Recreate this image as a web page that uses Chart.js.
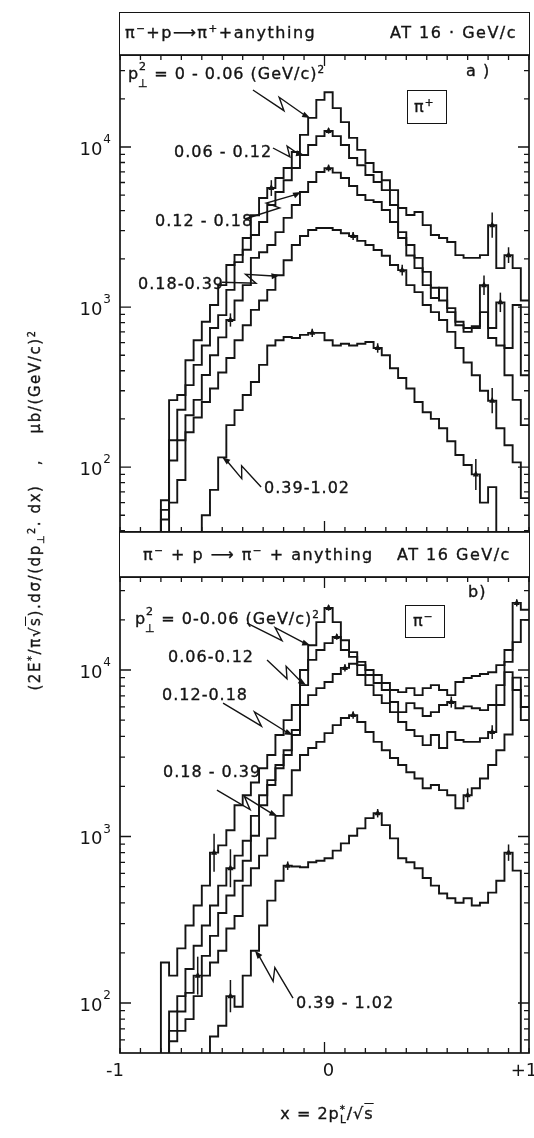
<!DOCTYPE html>
<html>
<head>
<meta charset="utf-8">
<script src="https://cdn.jsdelivr.net/npm/chart.js@4.4.1/dist/chart.umd.min.js"></script>
<style>
  body { margin: 0; background: #fff; }
  #page { position: relative; width: 534px; height: 1138px; overflow: hidden;
          font-family: 'DejaVu Sans', sans-serif; color: #141414; }
  canvas { position: absolute; left: 0; top: 0; }
  .t { position: absolute; white-space: nowrap; font-size: 16px; line-height: 18px; letter-spacing: 1px;
       -webkit-text-stroke: 0.35px #141414; }
  .hd { letter-spacing: 1.5px; }
  .box { position: absolute; border: 1.7px solid #141414; box-sizing: border-box; }
  sup { font-size: 0.65em; vertical-align: 0.55em; line-height: 0; }
  .pp { position: relative; display: inline-block; padding-right: 9px; }
  .pp .u { position: absolute; left: 11px; top: -7px; font-size: 11px; }
  .pp .d { position: absolute; left: 10px; top: 10px; font-size: 11px; }
  #ytitle { position: absolute; left: -174px; top: 500px; width: 420px; text-align: center;
            transform: rotate(-90deg); font-size: 15px; letter-spacing: 1.6px; white-space: nowrap;
            -webkit-text-stroke: 0.3px #141414; }
  #xtitle { position: absolute; left: 227px; top: 1104px; width: 200px; text-align: center;
            font-size: 16px; letter-spacing: 1px; -webkit-text-stroke: 0.35px #141414; }
</style>
</head>
<body>
<div id="page">
  <canvas id="plusChart" width="534" height="1138"></canvas>
  <canvas id="minusChart" width="534" height="1138"></canvas>

  <!-- header bands -->
  <div class="box" style="left:119px; top:12px; width:411px; height:44px;"></div>
  <div class="box" style="left:119px; top:531px; width:411px; height:47px;"></div>
  <div class="t hd" style="left:125px; top:24px;">π<sup>−</sup>+p⟶π<sup>+</sup>+anything</div>
  <div class="t hd" style="left:390px; top:24px;">AT 16 · GeV/c</div>
  <div class="t hd" style="left:143px; top:546px;">π<sup>−</sup> + p ⟶ π<sup>−</sup> + anything</div>
  <div class="t hd" style="left:397px; top:546px;">AT 16 GeV/c</div>

  <!-- panel a labels -->
  <div class="t" style="left:466px; top:62px;">a )</div>
  <div class="box" style="left:407px; top:90px; width:40px; height:34px;"></div>
  <div class="t" style="left:414px; top:98px;">π<sup>+</sup></div>
  <div class="t" style="left:128px; top:65px;"><span class="pp">p<span class="u">2</span><span class="d">⊥</span></span> = 0 - 0.06 (GeV/c)<sup>2</sup></div>
  <div class="t" style="left:174px; top:143px;">0.06 - 0.12</div>
  <div class="t" style="left:155px; top:212px;">0.12 - 0.18</div>
  <div class="t" style="left:138px; top:275px;">0.18-0.39</div>
  <div class="t" style="left:264px; top:479px;">0.39-1.02</div>

  <!-- panel b labels -->
  <div class="t" style="left:468px; top:583px;">b)</div>
  <div class="box" style="left:405px; top:605px; width:40px; height:33px;"></div>
  <div class="t" style="left:413px; top:612px;">π<sup>−</sup></div>
  <div class="t" style="left:135px; top:610px;"><span class="pp">p<span class="u">2</span><span class="d">⊥</span></span> = 0-0.06 (GeV/c)<sup>2</sup></div>
  <div class="t" style="left:168px; top:648px;">0.06-0.12</div>
  <div class="t" style="left:162px; top:686px;">0.12-0.18</div>
  <div class="t" style="left:163px; top:763px;">0.18 - 0.39</div>
  <div class="t" style="left:296px; top:994px;">0.39 - 1.02</div>

  <div id="ytitle">(2E<sup>*</sup>/π√<span style="text-decoration:overline">s</span>).dσ/(dp<sub style="font-size:0.65em">⊥</sub><sup>2</sup>. dx)&nbsp;&nbsp; ,&nbsp;&nbsp;&nbsp; μb/(GeV/c)<sup>2</sup></div>
  <div id="xtitle">x = 2p<sup>*</sup><sub style="font-size:0.65em; margin-left:-6px">L</sub>/√<span style="text-decoration:overline">s</span></div>
</div>

<script>
// histogram binning in x = 2pL*/sqrt(s)
const X_MIN = -1;
const X_MAX = 1;
const BIN_WIDTH = 0.04;
const N_BINS = 50;
const binEdges = [];
for (let k = 0; k <= N_BINS; k++) binEdges.push(+(X_MIN + k * BIN_WIDTH).toFixed(2));

const ptBands = ['0-0.06', '0.06-0.12', '0.12-0.18', '0.18-0.39', '0.39-1.02'];

// pi- p -> pi+ anything, invariant cross section per bin (ub/(GeV/c)^2)
const plus006 = [null, null, null, null, null, 54, 262, 282, 465, 620,
  810, 1030, 1370, 1830, 2120, 2700, 3750, 4800, 5540, 6400,
  7400, 9300, 11900, 15200, 19700, 22000, 17500, 14300, 11400, 9600,
  7950, 6980, 6200, 5380, 4160, 3760, 3930, 3250, 2820, 2700,
  2550, 2110, 2030, 2030, 2110, 3250, 1750, 2110, 1750, 1100];
const plus012 = [null, null, null, null, null, 62, 147, 228, 325, 435,
  575, 740, 890, 1280, 1910, 2280, 2820, 3400, 4340, 5230,
  6200, 7390, 8910, 10300, 11700, 12600, 11700, 10300, 8540, 7700,
  6680, 6040, 5380, 4340, 2700, 2100, 1750, 1370, 1140, 1320,
  930, 810, 740, 760, 1370, 740, 1070, 555, 1030, 375];
const plus018 = [null, null, null, null, null, 47, 110, 147, 211, 263,
  376, 500, 646, 830, 1100, 1370, 2030, 2200, 2440, 2940,
  3610, 4340, 5230, 6040, 6980, 7380, 6920, 6400, 5710, 5010,
  4660, 4530, 4040, 3400, 2940, 2440, 2030, 1660, 1320, 1100,
  985, 770, 700, 740, 930, 640, 575, 375, 263, 183];
const plus039 = [null, null, null, null, null, null, 60, 83, 165, 204,
  255, 310, 390, 480, 620, 770, 960, 1100, 1280, 1580,
  1960, 2440, 2780, 3030, 3120, 3120, 3030, 2890, 2780, 2590,
  2440, 2270, 2090, 1830, 1700, 1370, 1240, 1030, 930, 830,
  700, 555, 450, 375, 300, 260, 175, 137, 107, 64];
const plus102 = [null, null, null, null, null, null, null, null, null, null,
  50, 72, 115, 183, 227, 282, 340, 435, 575, 620,
  650, 640, 670, 690, 690, 620, 575, 590, 575, 590,
  605, 555, 500, 415, 360, 310, 255, 220, 200, 175,
  145, 119, 103, 90, 60, 75, null, null, null, null];

// pi- p -> pi- anything
const minus006 = [null, null, null, null, null, 175, 146, 213, 292, 385,
  507, 800, 885, 1090, 1540, 1770, 2110, 2570, 3090, 4070,
  5000, 6160, 10000, 14100, 19400, 23600, 19400, 15100, 12800, 11200,
  10000, 9330, 8350, 7580, 7370, 7790, 7070, 7790, 8120, 7580,
  7070, 8470, 8950, 9200, 9460, 9700, 10700, 13200, 25300, 23000];
const minus012 = [null, null, null, null, null, null, 89, 110, 160, 221,
  292, 385, 507, 645, 768, 944, 1330, 1770, 2180, 2690,
  3300, 4360, 8120, 11500, 13200, 14500, 15800, 13200, 12000, 10700,
  9330, 8350, 7580, 6420, 5590, 6330, 5900, 5290, 5590, 6160,
  6420, 5900, 6050, 5900, 5740, 6160, 8120, 11200, 14700, 20000];
const minus018 = [null, null, null, null, null, null, 68, 89, 115, 146,
  192, 253, 347, 442, 543, 716, 1010, 1540, 2040, 2570,
  3090, 4070, 6160, 7070, 7790, 8470, 9460, 10300, 10900, 9330,
  8120, 7070, 6330, 5590, 4870, 4360, 4010, 3540, 4070, 3400,
  4240, 3800, 3700, 3700, 3900, 4240, 6160, 9720, 7580, 5000];
const minus039 = [null, null, null, null, null, null, 59, 68, 80, 110,
  146, 175, 206, 280, 333, 507, 645, 768, 975, 1330,
  1770, 2500, 3090, 3400, 3700, 4180, 4670, 5150, 5360, 4870,
  4240, 3700, 3300, 2960, 2690, 2430, 2230, 1950, 2040, 1900,
  1770, 1480, 1770, 1950, 2230, 2690, 3300, 4100, 9000, 6000];
const minus102 = [null, null, null, null, null, null, null, null, null, null,
  null, 63, 73, 110, 95, 146, 206, 292, 412, 543,
  668, 660, 654, 700, 716, 740, 823, 910, 1010, 1120,
  1290, 1380, 1170, 975, 740, 700, 645, 563, 507, 455,
  426, 400, 426, 385, 400, 460, 543, 800, 624, null];

// y ranges of the two log panels
const plusRange = [39.3, 37580];
const minusRange = [50.1, 36200];

// sample error bars: [band, bin, error factor]
const plusErrors = [[0, 18, 1.12], [1, 25, 1.04], [2, 25, 1.05], [3, 28, 1.06], [3, 34, 1.08],
  [4, 23, 1.06], [4, 31, 1.07], [2, 13, 1.1], [0, 45, 1.2], [0, 47, 1.12], [1, 44, 1.15],
  [3, 45, 1.2], [4, 43, 1.25], [1, 46, 1.15]];
const minusErrors = [[0, 25, 1.04], [1, 26, 1.04], [2, 27, 1.05], [3, 28, 1.05], [4, 31, 1.06],
  [4, 20, 1.06], [0, 48, 1.05], [1, 40, 1.08], [2, 45, 1.1], [3, 42, 1.1], [4, 47, 1.12],
  [0, 11, 1.3], [1, 13, 1.3], [4, 13, 1.25], [2, 9, 1.3]];

// zigzag pointers: start (x, value) near each band label, end x on that band's curve
const plusArrows = [
  { series: 0, from: [-0.35, 22700], to: -0.07 },
  { series: 1, from: [-0.252, 9860], to: -0.10 },
  { series: 2, from: [-0.389, 3550], to: -0.115 },
  { series: 3, from: [-0.501, 1430], to: -0.22 },
  { series: 4, from: [-0.31, 75], to: -0.50 }
];
const minusArrows = [
  { series: 0, from: [-0.379, 19100], to: -0.07 },
  { series: 1, from: [-0.281, 11480], to: -0.09 },
  { series: 2, from: [-0.496, 6330], to: -0.155 },
  { series: 3, from: [-0.526, 1900], to: -0.23 },
  { series: 4, from: [-0.154, 107], to: -0.34 }
];

const INK = '#141414';
const FONT = "'DejaVu Sans', sans-serif";
const FLOOR = 1; // empty bins fall below the axis

function histPoints(values) {
  const pts = values.map((v, k) => ({ x: binEdges[k], y: v ?? FLOOR }));
  pts.push({ x: binEdges[N_BINS], y: values[N_BINS - 1] ?? FLOOR });
  return pts;
}

function zigArrow(ctx, x0, y0, x1, y1) {
  const dx = x1 - x0, dy = y1 - y0, len = Math.hypot(dx, dy);
  const ux = dx / len, uy = dy / len, nx = -uy, ny = ux;
  ctx.beginPath();
  ctx.moveTo(x0, y0);
  ctx.lineTo(x0 + dx * 0.58 + nx * 5, y0 + dy * 0.58 + ny * 5);
  ctx.lineTo(x0 + dx * 0.42 - nx * 5, y0 + dy * 0.42 - ny * 5);
  ctx.lineTo(x1 - ux * 6, y1 - uy * 6);
  ctx.stroke();
  ctx.beginPath();
  ctx.moveTo(x1, y1);
  ctx.lineTo(x1 - ux * 8 + nx * 3, y1 - uy * 8 + ny * 3);
  ctx.lineTo(x1 - ux * 8 - nx * 3, y1 - uy * 8 - ny * 3);
  ctx.closePath();
  ctx.fill();
}

// frame, inward ticks, decade labels, error bars and label pointers
const frameTicks = {
  id: 'frameTicks',
  afterDatasetsDraw(chart, args, opts) {
    const { ctx, chartArea: a, scales: { x, y } } = chart;
    ctx.save();
    ctx.strokeStyle = INK;
    ctx.fillStyle = INK;
    ctx.lineWidth = 1.7;
    ctx.strokeRect(a.left, a.top, a.right - a.left, a.bottom - a.top);

    ctx.lineWidth = 1.3;
    ctx.beginPath();
    for (let i = -10; i <= 10; i++) {
      const px = x.getPixelForValue(i / 10);
      const len = i === 0 ? 11 : 5;
      ctx.moveTo(px, a.top); ctx.lineTo(px, a.top + len);
      ctx.moveTo(px, a.bottom); ctx.lineTo(px, a.bottom - len);
    }
    for (let e = 1; e <= 4; e++) {
      for (let m = 1; m <= 9; m++) {
        const v = m * Math.pow(10, e);
        if (v < y.min || v > y.max) continue;
        const py = y.getPixelForValue(v);
        const len = m === 1 ? 11 : 5;
        ctx.moveTo(a.left, py); ctx.lineTo(a.left + len, py);
        ctx.moveTo(a.right, py); ctx.lineTo(a.right - len, py);
      }
    }
    ctx.stroke();

    // decade labels 10^n
    ctx.textBaseline = 'middle';
    ctx.textAlign = 'right';
    for (let e = 2; e <= 4; e++) {
      const py = y.getPixelForValue(Math.pow(10, e));
      ctx.font = `12px ${FONT}`;
      const w = ctx.measureText(String(e)).width;
      ctx.fillText(String(e), a.left - 9, py - 7);
      ctx.font = `18px ${FONT}`;
      ctx.fillText('10', a.left - 10 - w, py + 3);
    }

    if (opts.xLabels) {
      ctx.font = `18px ${FONT}`;
      ctx.textAlign = 'center';
      [[-1, '-1', -5], [0, '0', 4], [1, '+1', -5]].forEach(([v, s, off]) => {
        ctx.fillText(s, x.getPixelForValue(v) + off, a.bottom + 18);
      });
    }

    // error bars with small triangle markers at bin centres
    ctx.lineWidth = 1.5;
    (opts.errors || []).forEach(([s, k, f]) => {
      const v = chart.data.datasets[s].data[k].y;
      const px = x.getPixelForValue(binEdges[k] + BIN_WIDTH / 2);
      const py = y.getPixelForValue(v);
      ctx.beginPath();
      ctx.moveTo(px, y.getPixelForValue(v * f));
      ctx.lineTo(px, y.getPixelForValue(v / f));
      ctx.stroke();
      ctx.beginPath();
      ctx.moveTo(px, py - 4);
      ctx.lineTo(px - 3, py + 2);
      ctx.lineTo(px + 3, py + 2);
      ctx.closePath();
      ctx.fill();
    });

    ctx.lineWidth = 1.4;
    (opts.arrows || []).forEach(ar => {
      const k = Math.floor((ar.to - X_MIN) / BIN_WIDTH);
      const yv = chart.data.datasets[ar.series].data[k].y;
      zigArrow(ctx,
        x.getPixelForValue(ar.from[0]), y.getPixelForValue(ar.from[1]),
        x.getPixelForValue(ar.to), y.getPixelForValue(yv));
    });
    ctx.restore();
  }
};

function makePanel(id, seriesList, range, padTop, padBottom, arrows, errors, xLabels) {
  return new Chart(document.getElementById(id).getContext('2d'), {
    type: 'line',
    data: {
      datasets: seriesList.map((s, i) => ({
        label: ptBands[i],
        data: histPoints(s),
        stepped: 'before',
        borderColor: INK,
        borderWidth: 1.9,
        pointRadius: 0,
        fill: false
      }))
    },
    options: {
      responsive: false,
      animation: false,
      layout: { padding: { left: 120, right: 5, top: padTop, bottom: padBottom } },
      scales: {
        x: { type: 'linear', min: X_MIN, max: X_MAX, display: false },
        y: { type: 'logarithmic', min: range[0], max: range[1], display: false }
      },
      plugins: {
        legend: { display: false },
        tooltip: { enabled: false },
        frameTicks: { arrows, errors, xLabels }
      }
    },
    plugins: [frameTicks]
  });
}

makePanel('plusChart', [plus006, plus012, plus018, plus039, plus102],
  plusRange, 55, 1138 - 532, plusArrows, plusErrors, false);
makePanel('minusChart', [minus006, minus012, minus018, minus039, minus102],
  minusRange, 577, 1138 - 1053, minusArrows, minusErrors, true);
</script>
</body>
</html>
